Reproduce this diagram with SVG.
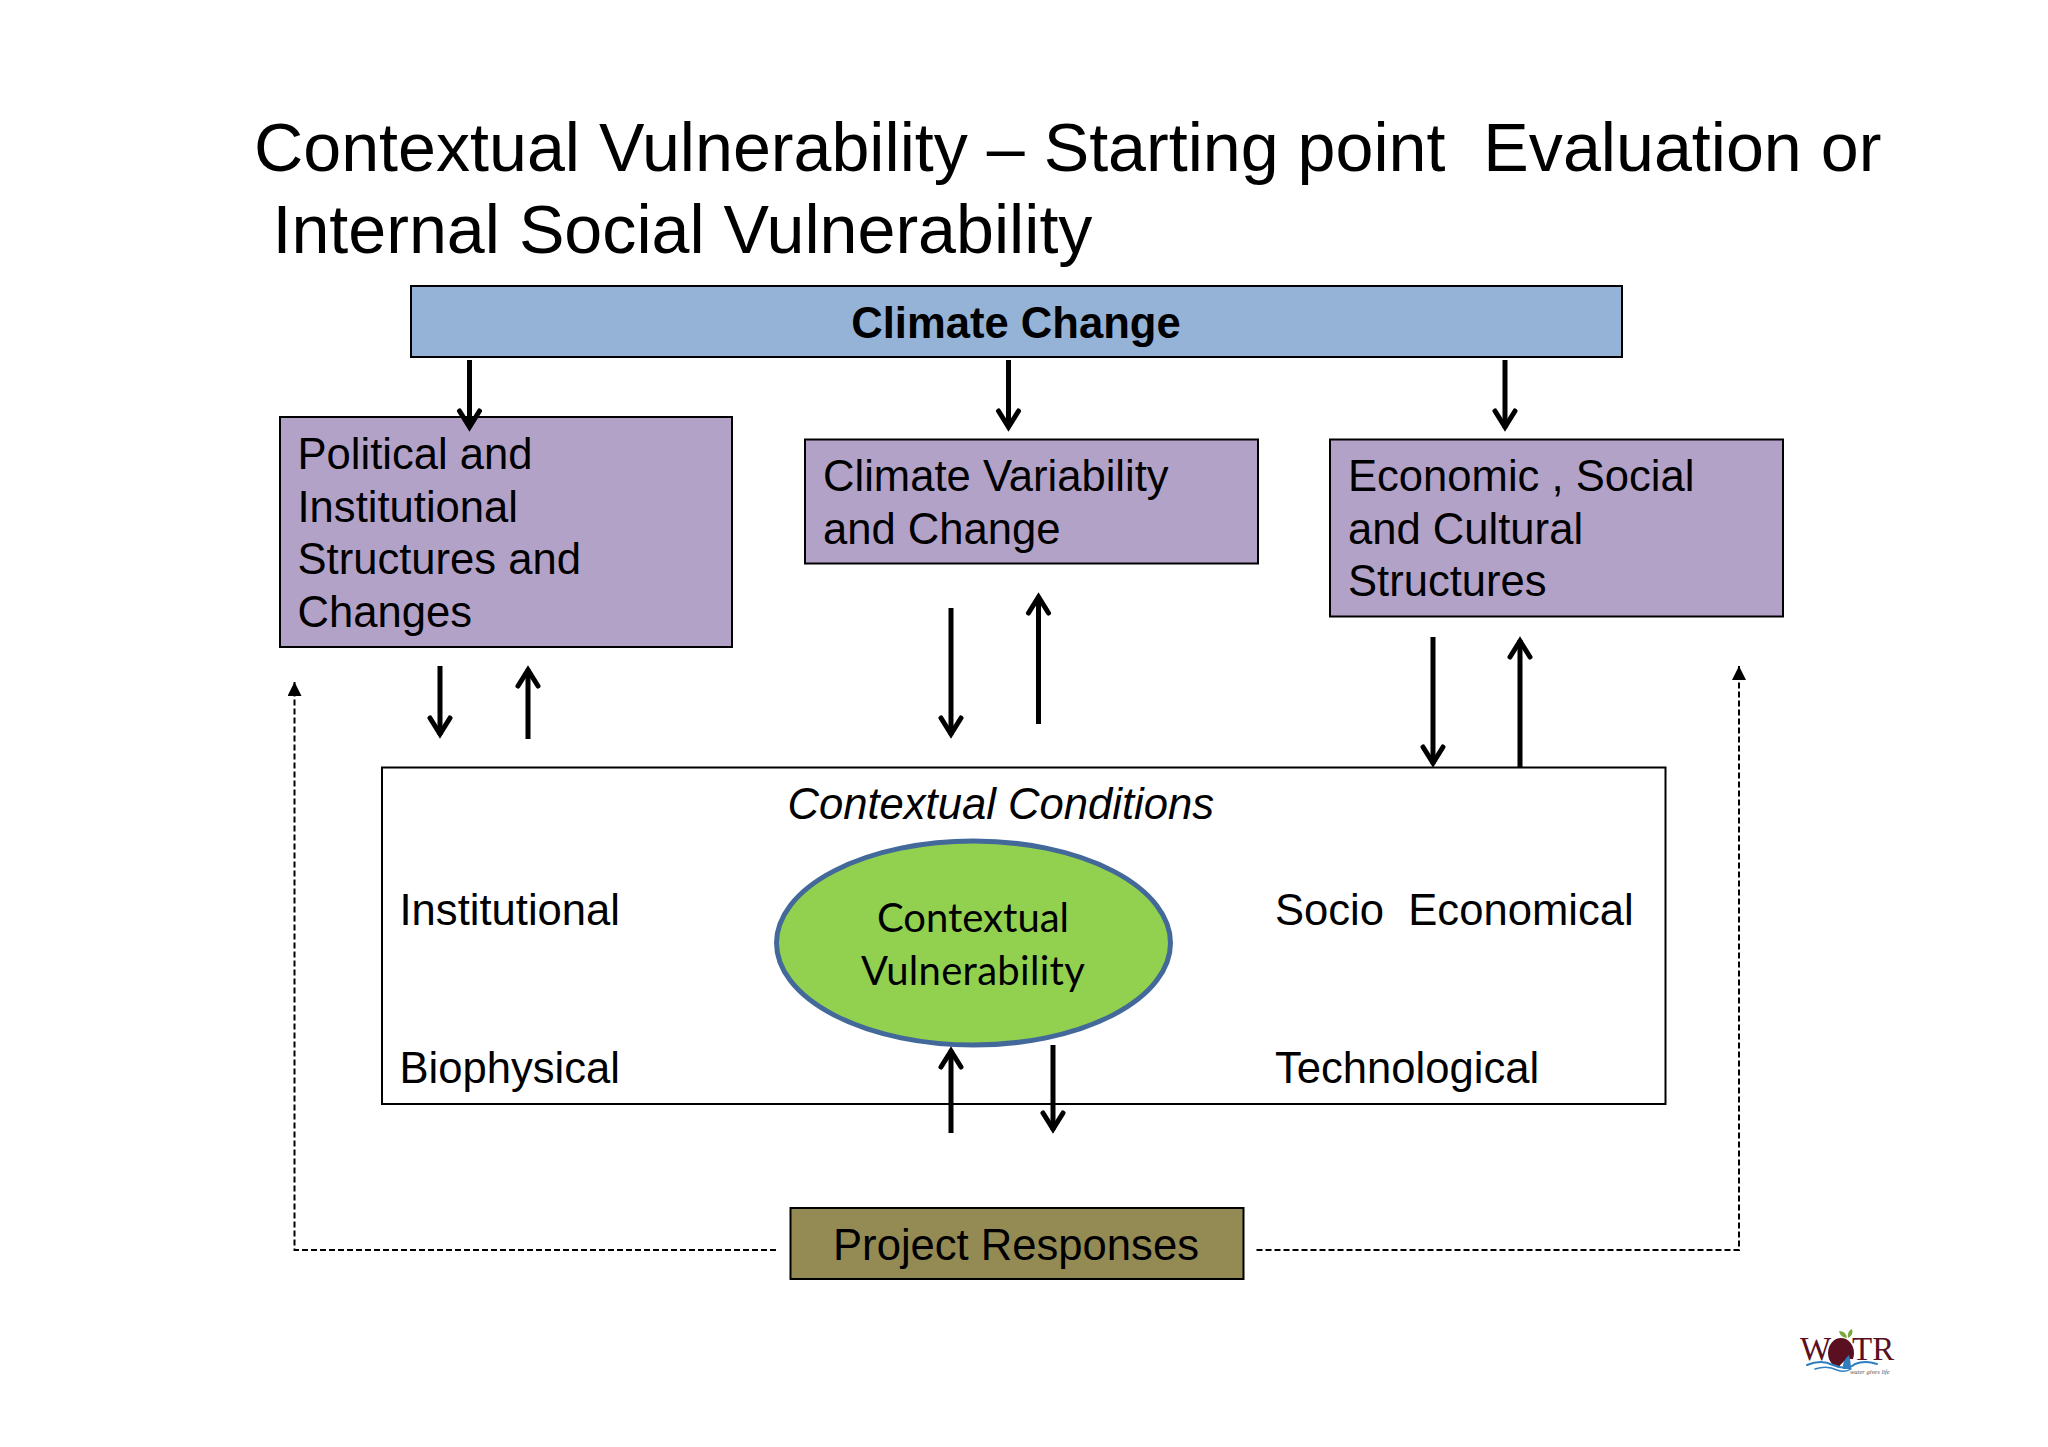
<svg xmlns="http://www.w3.org/2000/svg" width="2048" height="1447" viewBox="0 0 2048 1447">
<style>
text{font-family:"Liberation Sans",Arial,sans-serif;fill:#000;white-space:pre}
.t{font-size:68.2px}
.b{font-size:43.6px}
.c{font-family:Lato,"Open Sans",sans-serif;font-size:40px;text-anchor:middle}
.l{font-family:"Liberation Serif",serif;font-size:33px;fill:#5a1020}
.box{stroke:#000;stroke-width:2}
.pur{fill:#b3a2c7}
.arr{fill:none;stroke:#000;stroke-width:5;marker-end:url(#open)}
.dash{fill:none;stroke:#000;stroke-width:2;stroke-dasharray:6 3;marker-end:url(#tri)}
.wave{fill:none;stroke:#2f7fc0;stroke-linecap:round}
</style>
<defs>
<marker id="open" markerUnits="userSpaceOnUse" markerWidth="30" markerHeight="30" refX="22" refY="15" orient="auto" overflow="visible"><path d="M5 5 L21 15 L5 25" fill="none" stroke="#000" stroke-width="5" stroke-linecap="round"/></marker>
<marker id="tri" markerUnits="userSpaceOnUse" markerWidth="16" markerHeight="16" refX="14" refY="7" orient="auto"><path d="M0 0 L14 7 L0 14 Z" fill="#000"/></marker>
</defs>
<rect width="2048" height="1447" fill="#fff"/>
<g id="title"><text class="t" x="254" y="171">Contextual Vulnerability – Starting point  Evaluation or</text><text class="t" x="272.500" y="252.500">Internal Social Vulnerability</text></g>
<g id="climate-change"><rect class="box" x="411" y="286" width="1211" height="71" fill="#95b3d7"/><text x="1016" y="337.500" text-anchor="middle" font-size="43.6" font-weight="bold">Climate Change</text></g>
<g id="political"><rect class="box pur" x="280" y="417" width="452" height="230"/><text class="b" x="297.500" y="469">Political and</text><text class="b" x="297.500" y="521.5">Institutional</text><text class="b" x="297.500" y="574">Structures and</text><text class="b" x="297.500" y="626.5">Changes</text></g>
<g id="variability"><rect class="box pur" x="805" y="439.500" width="453" height="124"/><text class="b" x="823" y="491">Climate Variability</text><text class="b" x="823" y="543.5">and Change</text></g>
<g id="economic"><rect class="box pur" x="1330" y="439.500" width="453" height="177"/><text class="b" x="1348" y="491">Economic , Social</text><text class="b" x="1348" y="543.5">and Cultural</text><text class="b" x="1348" y="596">Structures</text></g>
<g id="contextual-conditions"><rect class="box" x="382" y="767.500" width="1283.500" height="336.500" fill="#fff"/><text x="787.500" y="819" font-size="43.6" font-style="italic">Contextual Conditions</text><text class="b" x="399.500" y="925">Institutional</text><text class="b" x="399.500" y="1082.500">Biophysical</text><text class="b" x="1275" y="925">Socio  Economical</text><text class="b" x="1275" y="1082.500">Technological</text></g>
<g id="contextual-vulnerability"><ellipse cx="973.5" cy="943" rx="197" ry="102" fill="#92d050" stroke="#43699b" stroke-width="5"/><text class="c" x="973" y="932">Contextual</text><text class="c" x="973" y="985" letter-spacing=".3">Vulnerability</text></g>
<g id="project-responses"><rect class="box" x="790.500" y="1208" width="453" height="71" fill="#948a54"/><text class="b" x="1016" y="1260" text-anchor="middle">Project Responses</text></g>
<g id="connectors">
<path class="arr" d="M469.500 360V428"/><path class="arr" d="M1008.500 360V428"/><path class="arr" d="M1505 360V428"/>
<path class="arr" d="M440 666V735"/><path class="arr" d="M528 739V669"/>
<path class="arr" d="M951 608V735"/><path class="arr" d="M1038.500 724V596"/>
<path class="arr" d="M1433 637V764"/><path class="arr" d="M1520 767V640"/>
<path class="arr" d="M951 1133V1050"/><path class="arr" d="M1053 1045V1130"/>
<path class="dash" d="M776 1250H294.500V682"/>
<path class="dash" d="M1256.500 1250H1739V666"/>
</g>
<g id="logo">
<ellipse cx="1841" cy="1353" rx="13" ry="15" fill="#5a1020"/>
<path d="M1838 1368q8-12 18-8l-4 10z" fill="#fff"/>
<text class="l" x="1800" y="1360">W</text>
<path d="M1847 1338q-7-1-8-7q7 0 8 7zM1848 1338q-1-7 4-9q2 6-4 9z" fill="#7aa83c"/>
<text class="l" x="1852" y="1360">TR</text>
<path d="M1843 1369q-1-8 6-14q2 7 2 14z" fill="#2f7fc0"/>
<path class="wave" stroke-width="2" d="M1807 1365q14-6 26 0q14 6 22-1q10-4 22 0"/>
<path class="wave" stroke-width="1.500" d="M1815 1369q12-4 22 1q8 3 14-1"/>
<text x="1850" y="1374" font-size="6.500" font-style="italic" style="font-family:'Liberation Serif',serif;fill:#555">water gives life</text>
</g>
</svg>
